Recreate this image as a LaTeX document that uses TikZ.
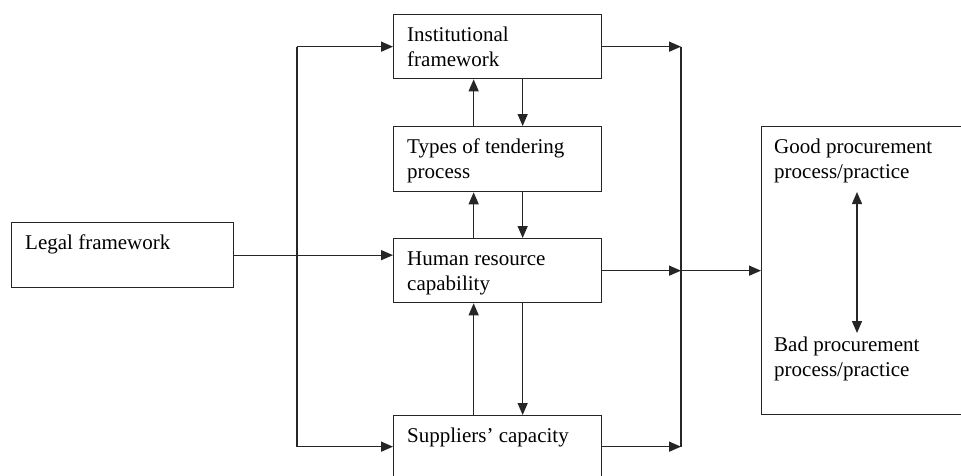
\documentclass[tikz,border=0pt]{standalone}
\usepackage{fontspec}
\setmainfont{Liberation Serif}
\usetikzlibrary{arrows.meta,calc}
\begin{document}
\begin{tikzpicture}[x=1pt,y=-1pt,
  box/.style={draw=black!85, line width=1.3pt, inner sep=0pt, anchor=north west},
  lbl/.style={anchor=north west, inner sep=0pt, align=left,
    font=\fontsize{21}{25}\selectfont},
  link/.style={draw=black!85, line width=1.3pt},
  tip/.tip={Triangle[length=12pt 0,width=10pt 0]},
  arr/.style={link, -tip},
  dbl/.style={link, tip-tip}]
\path[use as bounding box] (0,0) rectangle (961,475);
\clip (0,0) rectangle (961,475);

% boxes
\node[box, minimum width=222pt, minimum height=65pt] (legal) at (11,222) {};
\node[box, minimum width=208pt, minimum height=64pt] (inst)  at (393,14)  {};
\node[box, minimum width=208pt, minimum height=65pt] (types) at (393,126) {};
\node[box, minimum width=208pt, minimum height=64pt] (hr)    at (393,238) {};
\node[box, minimum width=208pt, minimum height=62pt] (sup)   at (393,415) {};
\node[box, minimum width=215pt, minimum height=288pt] (out)  at (761,126) {};

% box texts
\node[lbl] (legal-t) at ([shift={(14,9.5)}]legal.north west) {\strut Legal framework};
\node[lbl] (inst-t)  at ([shift={(14,9.5)}]inst.north west)  {\strut Institutional\\framework};
\node[lbl] (types-t) at ([shift={(14,9.5)}]types.north west) {\strut Types of tendering\\process};
\node[lbl] (hr-t)    at ([shift={(14,9.5)}]hr.north west)    {\strut Human resource\\capability};
\node[lbl] (sup-t)   at ([shift={(14,9.5)}]sup.north west)   {\strut Suppliers’ capacity};
\node[lbl] (good-t)  at ([shift={(13,9.5)}]out.north west)   {\strut Good procurement\\process/practice};
\node[lbl] (bad-t)   at ([shift={(13,207.5)}]out.north west) {\strut Bad procurement\\process/practice};

% guide lines
\coordinate (lx) at (297,0);
\coordinate (rx) at (681,0);
\coordinate (gb) at (857,192);
\coordinate (bt) at (857,333);

% legal framework into human resources
\draw[arr] (legal.east) -- (legal.east -| hr.west);

% left distribution line
\draw[link] (inst.west -| lx) -- (sup.west -| lx);
\draw[arr] (inst.west -| lx) -- (inst.west);
\draw[arr] (sup.west -| lx) -- (sup.west);

% vertical exchanges between the middle boxes
\draw[arr] ([xshift=-24pt]types.north) -- ([xshift=-24pt]inst.south);
\draw[arr] ([xshift=25pt]inst.south) -- ([xshift=25pt]types.north);
\draw[arr] ([xshift=-24pt]hr.north) -- ([xshift=-24pt]types.south);
\draw[arr] ([xshift=25pt]types.south) -- ([xshift=25pt]hr.north);
\draw[arr] ([xshift=-24pt]sup.north) -- ([xshift=-24pt]hr.south);
\draw[arr] ([xshift=25pt]hr.south) -- ([xshift=25pt]sup.north);

% right collecting line
\draw[link] (inst.east -| rx) -- (sup.east -| rx);
\draw[arr] (inst.east) -- (inst.east -| rx);
\draw[arr] (hr.east) -- (hr.east -| rx);
\draw[arr] (sup.east) -- (sup.east -| rx);
\draw[arr] (hr.east -| rx) -- (out.west);

% good / bad range
\draw[dbl] (gb) -- (bt);
\end{tikzpicture}
\end{document}
